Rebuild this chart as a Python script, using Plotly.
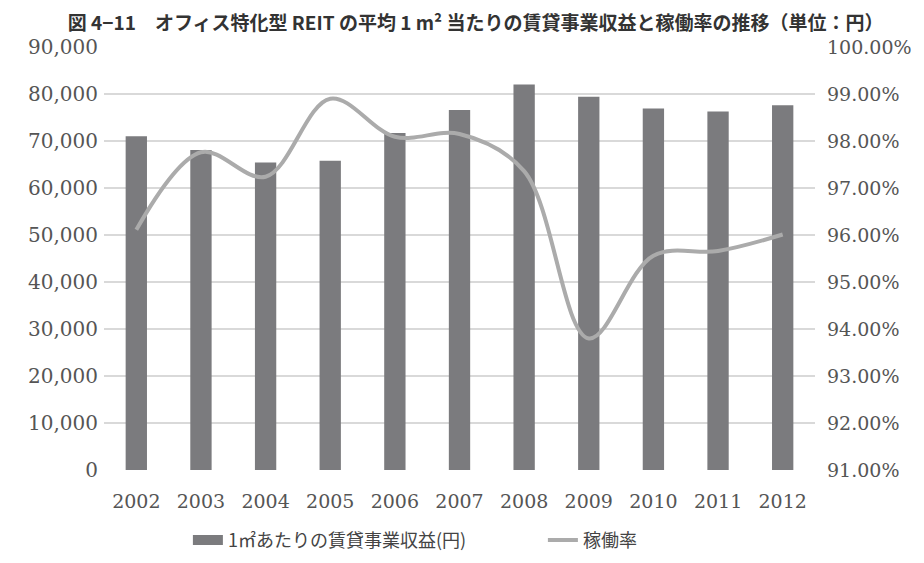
import plotly.graph_objects as go

years = ["2002", "2003", "2004", "2005", "2006", "2007", "2008", "2009", "2010", "2011", "2012"]
revenue = [71000, 68100, 65400, 65800, 71700, 76600, 82000, 79400, 76900, 76300, 77600]
occupancy = [0.9611, 0.9776, 0.9724, 0.9890, 0.9809, 0.9815, 0.9736, 0.9380, 0.9556, 0.9566, 0.9601]
left_ticks = [0, 10000, 20000, 30000, 40000, 50000, 60000, 70000, 80000, 90000]
right_ticks = [0.91, 0.92, 0.93, 0.94, 0.95, 0.96, 0.97, 0.98, 0.99, 1.00]

title = "図 4−11　オフィス特化型 REIT の平均 1 m² 当たりの賃貸事業収益と稼働率の推移（単位：円）"
bar_name = "1㎡あたりの賃貸事業収益(円)"
line_name = "稼働率"
serif = "DejaVu Serif, Liberation Serif, serif"
jp = "Noto Sans CJK JP"
bar_color = "#7b7b7e"
line_color = "#ababab"
tick_color = "#555555"

# the page body adds an 8px margin, so the figure is sized to fit the window
W, H = 908, 547

fig = go.Figure()
fig.add_trace(go.Bar(
    x=years, y=revenue, name=bar_name, showlegend=False,
    marker=dict(color=bar_color, line=dict(width=0)),
    width=0.33,
))
# legend entry drawn as a wide swatch like the original
fig.add_trace(go.Scatter(
    x=[None], y=[None], name=bar_name, mode="lines",
    line=dict(color=bar_color, width=10),
))
fig.add_trace(go.Scatter(
    x=years, y=occupancy, name=line_name, yaxis="y2", mode="lines",
    line=dict(color=line_color, width=4, shape="spline", smoothing=1.0),
))

fig.update_layout(
    width=W, height=H,
    margin=dict(l=96, r=101, t=39, b=85, autoexpand=False),
    paper_bgcolor="white", plot_bgcolor="white",
    title=dict(text=title, x=0.515, xref="container", xanchor="center",
               y=1 - 15 / H, yref="container", yanchor="middle",
               font=dict(family=jp, size=19, color="#333333", weight="bold")),
    xaxis=dict(tickfont=dict(family=serif, size=19, color=tick_color),
               showgrid=False, showline=False, ticks="", ticklabelstandoff=18,
               automargin=False),
    yaxis=dict(range=[0, 90000], tickvals=left_ticks, tickformat=",d",
               tickfont=dict(family=serif, size=20, color=tick_color),
               showgrid=True, gridcolor="#d9d9d9", gridwidth=1.5,
               zeroline=False, showline=False, ticks="", ticklabelstandoff=5,
               automargin=False),
    yaxis2=dict(range=[0.91, 1.00], tickvals=right_ticks, tickformat=".2%",
                overlaying="y", side="right", showgrid=False,
                tickfont=dict(family=serif, size=19, color=tick_color),
                zeroline=False, showline=False, ticklabelstandoff=11,
                automargin=False),
    legend=dict(orientation="h", x=0.118, xanchor="left", y=-0.166, yanchor="middle",
                font=dict(family=jp, size=18, color="#444444"), traceorder="normal",
                entrywidth=310, entrywidthmode="pixels", bgcolor="rgba(0,0,0,0)"),
    bargap=0.67,
    showlegend=True,
)

fig.write_html("out.html")
